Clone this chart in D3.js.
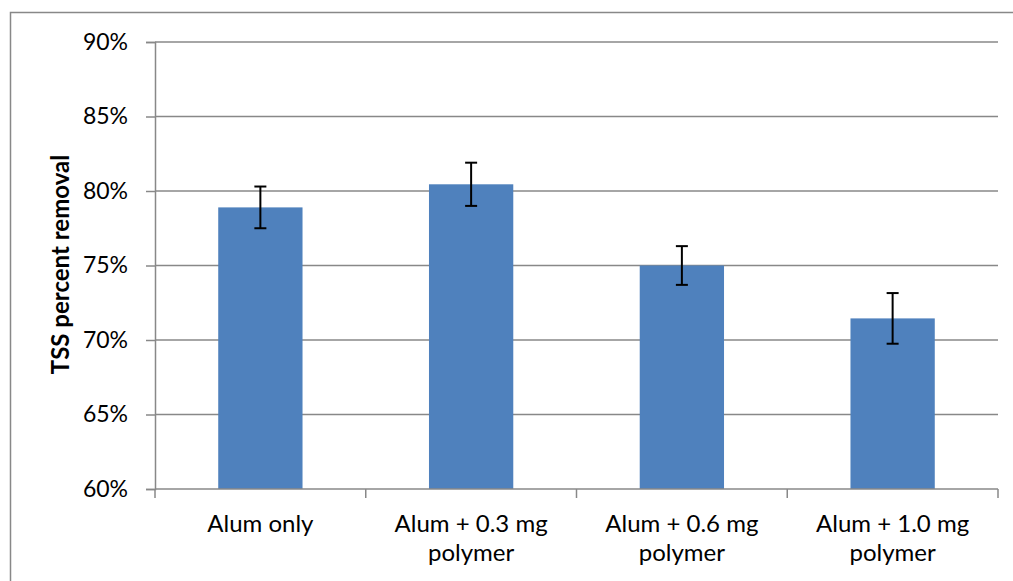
<!DOCTYPE html>
<html>
<head>
<meta charset="utf-8">
<script src="https://cdn.jsdelivr.net/npm/d3@7"></script>
<style>
  html, body { margin: 0; padding: 0; background: #fff; }
  svg { display: block; }
  text { font-family: Lato, "Liberation Sans", sans-serif; fill: #000; }
</style>
</head>
<body>
<svg id="chart" width="1013" height="581"></svg>
<script>
// TSS removal by treatment (fraction) with error-bar half widths
const categories = ["Alum only", "Alum + 0.3 mg polymer", "Alum + 0.6 mg polymer", "Alum + 1.0 mg polymer"];
const labelLines = [["Alum only"], ["Alum + 0.3 mg", "polymer"], ["Alum + 0.6 mg", "polymer"], ["Alum + 1.0 mg", "polymer"]];
const removal = [0.789, 0.8045, 0.750, 0.7145];
const errors = [0.014, 0.0145, 0.013, 0.017];
const yTicks = [0.60, 0.65, 0.70, 0.75, 0.80, 0.85, 0.90];
const yTitle = "TSS percent removal";

const svg = d3.select("#chart");
const plot = { left: 155, right: 998, top: 42, bottom: 489 };
const gridColor = "#888888";

// outer chart frame (runs off the right and bottom of the view)
svg.append("rect")
  .attr("x", 10.5).attr("y", 12.5)
  .attr("width", 1020).attr("height", 600)
  .attr("fill", "none").attr("stroke", gridColor).attr("stroke-width", 1.5);

const x = d3.scaleBand().domain(categories)
  .range([plot.left, plot.right])
  .paddingInner(0.6).paddingOuter(0.3);
const y = d3.scaleLinear().domain([0.6, 0.9]).range([plot.bottom, plot.top]);

// horizontal gridlines
svg.append("g").selectAll("line")
  .data(yTicks.filter(t => t > 0.6))
  .join("line")
  .attr("x1", plot.left).attr("x2", plot.right)
  .attr("y1", d => y(d)).attr("y2", d => y(d))
  .attr("stroke", gridColor).attr("stroke-width", 1.5);

// y axis
const yAxis = svg.append("g")
  .attr("transform", `translate(${plot.left},0)`)
  .call(d3.axisLeft(y).tickValues(yTicks).tickFormat(d3.format(".0%")).tickSize(9).tickPadding(18));
yAxis.select(".domain").attr("stroke", gridColor).attr("stroke-width", 1.5);
yAxis.selectAll(".tick line").attr("stroke", gridColor).attr("stroke-width", 1.5);
yAxis.selectAll(".tick text")
  .style("font-family", "Lato, 'Liberation Sans', sans-serif")
  .style("font-size", "23px").attr("fill", "#000");

// bars
svg.append("g").selectAll("rect")
  .data(categories)
  .join("rect")
  .attr("x", d => x(d))
  .attr("width", x.bandwidth())
  .attr("y", (d, i) => y(removal[i]))
  .attr("height", (d, i) => y(0.6) - y(removal[i]))
  .attr("fill", "#4F81BD");

// x axis line and category separators
const edges = categories.map(c => x(c) - x.step() * x.paddingOuter()).concat([plot.right]);
svg.append("line")
  .attr("x1", plot.left).attr("x2", plot.right)
  .attr("y1", plot.bottom).attr("y2", plot.bottom)
  .attr("stroke", gridColor).attr("stroke-width", 1.5);
svg.append("g").selectAll("line")
  .data(edges)
  .join("line")
  .attr("x1", d => d).attr("x2", d => d)
  .attr("y1", plot.bottom).attr("y2", plot.bottom + 9)
  .attr("stroke", gridColor).attr("stroke-width", 1.5);

// error bars
const cap = 6;
const eb = svg.append("g").attr("stroke", "#000").attr("stroke-width", 2);
categories.forEach((c, i) => {
  const cx = x(c) + x.bandwidth() / 2;
  const hi = y(removal[i] + errors[i]);
  const lo = y(removal[i] - errors[i]);
  eb.append("line").attr("x1", cx).attr("x2", cx).attr("y1", hi).attr("y2", lo);
  eb.append("line").attr("x1", cx - cap).attr("x2", cx + cap).attr("y1", hi).attr("y2", hi);
  eb.append("line").attr("x1", cx - cap).attr("x2", cx + cap).attr("y1", lo).attr("y2", lo);
});

// category labels
const lab = svg.append("g");
categories.forEach((c, i) => {
  const t = lab.append("text")
    .attr("text-anchor", "middle")
    .attr("x", x(c) + x.bandwidth() / 2)
    .attr("y", 532)
    .style("font-size", "24px");
  labelLines[i].forEach((ln, j) => {
    t.append("tspan").attr("x", x(c) + x.bandwidth() / 2).attr("dy", j === 0 ? 0 : 29).text(ln);
  });
});

// y axis title
svg.append("text")
  .attr("transform", `translate(69,${(plot.top + plot.bottom) / 2 - 1}) rotate(-90)`)
  .attr("text-anchor", "middle")
  .style("font-size", "24px").style("font-weight", "bold")
  .text(yTitle);
</script>
</body>
</html>
